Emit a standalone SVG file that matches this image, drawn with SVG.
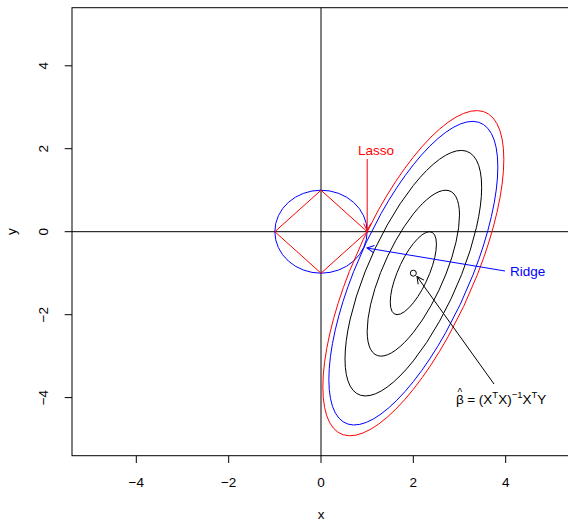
<svg xmlns="http://www.w3.org/2000/svg" width="568" height="522" viewBox="0 0 568 522">
<style>
  .ax { stroke: #000; stroke-width: 1; fill: none; }
  .lbl { font-family: "Liberation Sans", Arial, sans-serif; font-size: 13.5px; fill: #000; }
  .ell { fill: none; stroke-width: 1; }
  .red { stroke: #FF0000; }
  .blue { stroke: #0000FF; }
  .blk { stroke: #000; }
</style>
<defs>
  <marker id="ah-red" viewBox="-9 -5 10 10" refX="0" refY="0" markerWidth="10" markerHeight="10" orient="auto" markerUnits="userSpaceOnUse">
    <path d="M-7,-3.6 L0,0 L-7,3.6" fill="none" stroke="#FF0000" stroke-width="1"/>
  </marker>
  <marker id="ah-blue" viewBox="-9 -5 10 10" refX="0" refY="0" markerWidth="10" markerHeight="10" orient="auto" markerUnits="userSpaceOnUse">
    <path d="M-7,-3.6 L0,0 L-7,3.6" fill="none" stroke="#0000FF" stroke-width="1"/>
  </marker>
  <marker id="ah-blk" viewBox="-9 -5 10 10" refX="0" refY="0" markerWidth="10" markerHeight="10" orient="auto" markerUnits="userSpaceOnUse">
    <path d="M-7,-3.6 L0,0 L-7,3.6" fill="none" stroke="#000" stroke-width="1"/>
  </marker>
</defs>
<rect width="568" height="522" fill="#fff"/>

<g id="axes">
  <rect class="ax" x="72" y="7.7" width="500" height="448"/>
  <line class="ax" x1="72" y1="231.7" x2="568" y2="231.7"/>
  <line class="ax" x1="321" y1="7.7" x2="321" y2="455.7"/>
  <g id="xticks" class="ax">
    <line x1="136.3" y1="455.7" x2="136.3" y2="463"/>
    <line x1="228.7" y1="455.7" x2="228.7" y2="463"/>
    <line x1="321" y1="455.7" x2="321" y2="463"/>
    <line x1="413.3" y1="455.7" x2="413.3" y2="463"/>
    <line x1="505.7" y1="455.7" x2="505.7" y2="463"/>
  </g>
  <g id="yticks" class="ax">
    <line x1="72" y1="65.8" x2="64.7" y2="65.8"/>
    <line x1="72" y1="148.7" x2="64.7" y2="148.7"/>
    <line x1="72" y1="231.7" x2="64.7" y2="231.7"/>
    <line x1="72" y1="314.7" x2="64.7" y2="314.7"/>
    <line x1="72" y1="397.6" x2="64.7" y2="397.6"/>
  </g>
  <g id="xticklabels" class="lbl" text-anchor="middle">
    <text x="136.3" y="487">−4</text>
    <text x="228.7" y="487">−2</text>
    <text x="321" y="487">0</text>
    <text x="413.3" y="487">2</text>
    <text x="505.7" y="487">4</text>
  </g>
  <g id="yticklabels" class="lbl" text-anchor="middle">
    <text transform="translate(48,65.8) rotate(-90)">4</text>
    <text transform="translate(48,148.7) rotate(-90)">2</text>
    <text transform="translate(48,231.7) rotate(-90)">0</text>
    <text transform="translate(48,314.7) rotate(-90)">−2</text>
    <text transform="translate(48,397.6) rotate(-90)">−4</text>
  </g>
  <text class="lbl" x="321" y="518.5" text-anchor="middle">x</text>
  <text class="lbl" transform="translate(16,231.7) rotate(-90)" text-anchor="middle">y</text>
</g>

<g id="ridge-constraint">
  <ellipse class="ell blue" cx="321" cy="231.7" rx="46.17" ry="41.48"/>
</g>
<g id="lasso-constraint">
  <polygon class="ell red" points="367.17,231.7 321,190.22 274.83,231.7 321,273.18"/>
</g>

<g id="contours" transform="matrix(46.17,-58.07,0,-59.245,413.34,273.18)">
  <circle class="ell blk" cx="0" cy="0" r="0.5" vector-effect="non-scaling-stroke"/>
  <circle class="ell blk" cx="0" cy="0" r="1" vector-effect="non-scaling-stroke"/>
  <circle class="ell blk" cx="0" cy="0" r="1.48" vector-effect="non-scaling-stroke"/>
  <circle class="ell blue" cx="0" cy="0" r="1.83" vector-effect="non-scaling-stroke"/>
  <circle class="ell red" cx="0" cy="0" r="1.96" vector-effect="non-scaling-stroke"/>
</g>

<g id="beta-hat-point">
  <circle cx="413.34" cy="273.18" r="3" fill="none" stroke="#000" stroke-width="1"/>
</g>

<g id="connectors">
  <line x1="367.2" y1="159" x2="367.2" y2="230.5" stroke="#FF0000" stroke-width="1" marker-end="url(#ah-red)"/>
  <line x1="505" y1="271" x2="367" y2="248" stroke="#0000FF" stroke-width="1" marker-end="url(#ah-blue)"/>
  <line x1="494" y1="384" x2="417" y2="276.5" stroke="#000" stroke-width="1" marker-end="url(#ah-blk)"/>
</g>

<g id="label-lasso">
  <text class="lbl" x="376" y="155" text-anchor="middle" style="fill:#FF0000">Lasso</text>
</g>
<g id="label-ridge">
  <text class="lbl" x="510" y="276" style="fill:#0000FF">Ridge</text>
</g>
<g id="label-beta">
  <text class="lbl" x="456" y="404">β<tspan font-size="10" dx="-6.3" dy="-8">^</tspan><tspan dx="1.3" dy="8"> = (X</tspan><tspan font-size="9.5" dy="-6">T</tspan><tspan dy="6">X)</tspan><tspan font-size="9.5" dy="-6">−1</tspan><tspan dy="6">X</tspan><tspan font-size="9.5" dy="-6">T</tspan><tspan dy="6">Y</tspan></text>
</g>
</svg>
